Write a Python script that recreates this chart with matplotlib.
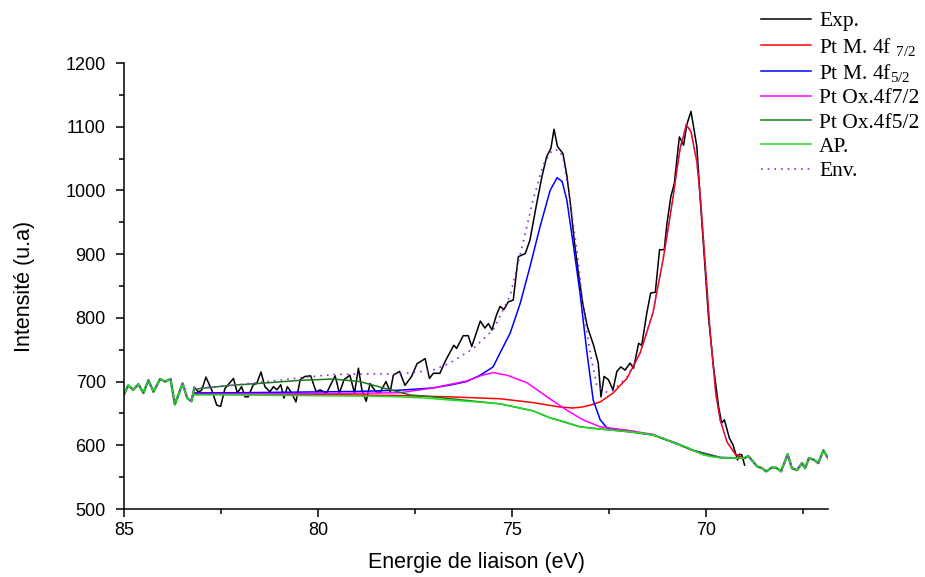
import numpy as np
import matplotlib.pyplot as plt
from matplotlib.ticker import MultipleLocator

# experimental spectrum inside the fit window (binding energy in eV, counts)
e_exp = [83.19, 83.09, 83.00, 82.89, 82.74, 82.61, 82.51, 82.40, 82.18, 82.08,
         81.97, 81.88, 81.80, 81.67, 81.58, 81.47, 81.37, 81.24, 81.15, 81.06,
         80.96, 80.88, 80.79, 80.68, 80.57, 80.46, 80.34, 80.19, 80.05, 79.95,
         79.78, 79.56, 79.45, 79.33, 79.18, 79.06, 78.96, 78.87, 78.76, 78.66,
         78.51, 78.40, 78.25, 78.14, 78.06, 77.90, 77.76, 77.59, 77.45, 77.24,
         77.13, 77.03, 76.86, 76.73, 76.60, 76.50, 76.43, 76.26, 76.13, 76.04,
         75.82, 75.70, 75.61, 75.52, 75.40, 75.31, 75.21, 75.10, 74.97, 74.84,
         74.66, 74.54, 74.38, 74.23, 74.11, 74.00, 73.92, 73.83, 73.69, 73.59,
         73.49, 73.40, 73.29, 73.18, 73.06, 72.90, 72.78, 72.71, 72.63, 72.52,
         72.40, 72.30, 72.20, 72.09, 71.96, 71.87, 71.74, 71.66, 71.53, 71.43,
         71.31, 71.20, 71.08, 71.01, 70.91, 70.82, 70.74, 70.69, 70.58, 70.50,
         70.39, 70.24, 70.15, 70.03, 69.94, 69.81, 69.68, 69.60, 69.53, 69.40,
         69.31, 69.19, 69.14, 69.08, 69.01]
i_exp = [691, 684, 686, 707, 687, 663, 661, 689, 705, 682,
         692, 676, 676, 695, 697, 715, 692, 684, 692, 687,
         695, 674, 692, 682, 668, 703, 708, 709, 684, 687,
         682, 709, 682, 703, 710, 682, 721, 687, 669, 697,
         684, 683, 700, 684, 710, 716, 694, 708, 728, 736,
         705, 713, 713, 731, 746, 757, 752, 772, 772, 755,
         795, 784, 791, 781, 805, 818, 813, 825, 828, 896,
         901, 922, 975, 1022, 1053, 1066, 1096, 1069, 1058, 1024,
         975, 922, 870, 823, 786, 757, 729, 676, 708, 703,
         687, 716, 723, 718, 729, 721, 760, 757, 807, 839,
         840, 907, 907, 948, 990, 1011, 1056, 1084, 1071, 1103,
         1124, 1069, 985, 880, 802, 723, 661, 635, 640, 611,
         601, 577, 586, 585, 569]

# raw data outside the fit window
e_low = [85.00, 84.89, 84.76, 84.63, 84.50, 84.37, 84.24, 84.07, 83.94, 83.80,
         83.69, 83.49, 83.37, 83.26, 83.19]
i_low = [680, 694, 687, 696, 682, 702, 684, 704, 700, 704,
         664, 697, 674, 669, 690]
e_high = [69.01, 68.91, 68.69, 68.56, 68.45, 68.31, 68.20, 68.07, 67.90, 67.79,
          67.66, 67.53, 67.45, 67.35, 67.22, 67.11, 66.98, 66.86]
i_high = [580, 583, 567, 564, 559, 565, 565, 559, 586, 564,
          561, 572, 564, 580, 577, 572, 592, 580]

# Shirley background (AP)
e_bg = [83.19, 82.50, 81.50, 80.46, 79.50, 78.50, 77.89, 77.20, 76.60, 75.90,
        75.31, 74.90, 74.46, 74.02, 73.65, 73.25, 72.87, 72.47, 71.96, 71.65,
        71.37, 71.10, 70.80, 70.49, 70.30, 70.08, 69.86, 69.64, 69.30, 69.01]
i_bg = [679, 679, 678.5, 678, 677.5, 677, 676, 674, 671, 668,
        665, 660, 654, 643, 637, 629, 626, 624, 621, 619,
        616, 611, 603, 597, 591, 585, 582, 580.5, 580, 580]

# Pt metal 4f7/2
e_m72 = [83.19, 82.00, 80.46, 79.00, 77.89, 76.60, 75.31, 74.46, 73.76, 73.43,
         73.20, 72.99, 72.73, 72.40, 72.04, 71.70, 71.54, 71.37, 71.24, 71.11,
         70.98, 70.85, 70.76, 70.67, 70.51, 70.39, 70.24, 70.15, 70.03, 69.90,
         69.75, 69.64, 69.46, 69.25, 69.05]
i_m72 = [682, 681, 680, 679, 678, 676, 673, 667, 660, 658.5,
         660, 663, 668, 682, 705, 745, 775, 808, 850, 891,
         940, 990, 1030, 1066, 1103, 1092, 1045, 990, 890, 780,
         680, 640, 605, 586, 580]

# Pt metal 4f5/2
e_m52 = [83.19, 82.00, 80.46, 79.00, 77.89, 77.04, 76.60, 76.17, 75.82, 75.49,
         75.31, 75.05, 74.79, 74.54, 74.28, 74.02, 73.84, 73.71, 73.59, 73.43,
         73.25, 73.07, 72.91, 72.73, 72.55, 72.40, 72.20, 71.96, 71.37, 70.80,
         70.30, 69.64, 69.01]
i_m52 = [682, 682.5, 683.5, 684.5, 686.5, 690, 694.5, 700, 710, 723,
         745, 776, 823, 880, 943, 1000, 1020, 1014, 985, 918,
         839, 745, 671, 640, 627, 625.5, 623, 621.5, 616.5, 604,
         591.5, 581, 580]

# Pt oxide 4f7/2
e_o72 = [83.19, 80.46, 78.50, 77.89, 77.04, 76.17, 75.77, 75.49, 75.13, 74.61,
         74.10, 73.59, 73.17, 72.73, 71.96, 71.37, 70.80, 70.30, 69.64, 69.01]
i_o72 = [680, 681, 682, 682.5, 690, 701, 710, 714, 710, 698,
         676, 655, 640, 629, 623, 617, 603.5, 591, 580.5, 580]

# Pt oxide 4f5/2
e_o52 = [83.19, 82.27, 81.31, 80.46, 79.61, 78.92, 78.32, 77.63, 77.04, 76.26,
         75.31, 74.46, 74.02, 73.25, 72.47, 71.96, 71.37, 70.80, 70.30, 69.64,
         69.01]
i_o52 = [688, 694, 698, 702, 704, 700, 690, 679, 676, 671,
         665, 654, 643, 629, 624, 621, 616, 603, 591, 580.5,
         580]

# envelope of the fit
e_env = [83.19, 82.27, 81.31, 80.46, 79.61, 78.92, 78.32, 77.89, 77.04, 76.60,
         76.00, 75.49, 75.05, 74.71, 74.46, 74.20, 73.97, 73.82, 73.69, 73.51,
         73.33, 73.17, 72.99, 72.81, 72.55, 72.40, 72.04, 71.70, 71.37, 71.11,
         70.85, 70.67, 70.51, 70.39, 70.24, 70.15, 70.03, 69.90, 69.75, 69.64,
         69.46, 69.25, 69.05]
i_env = [689, 694, 700, 706, 711, 712, 712, 712, 718, 729,
         752, 781, 835, 920, 985, 1040, 1063, 1064, 1053, 985,
         906, 818, 745, 692, 683, 686, 707, 746, 809, 892,
         991, 1067, 1104, 1093, 1046, 991, 891, 781, 681, 641,
         606, 587, 581]

plt.rcParams['font.family'] = 'Liberation Sans'
plt.rcParams['mathtext.fontset'] = 'custom'
plt.rcParams['mathtext.rm'] = 'Liberation Serif'
plt.rcParams['mathtext.it'] = 'Liberation Serif'

fig = plt.figure(figsize=(9.25, 5.77), dpi=100)
ax = fig.add_axes([124/925, 1-509/577, (828-124)/925, (509-63)/577])

lw = 1.1
dots = (0, (1, 3))
ax.plot(e_exp, i_exp, color='black', lw=lw, label='Exp.')
ax.plot(e_m72, i_m72, color='#ff0000', lw=lw, label=r'Pt M. 4f $_{7/2}$')
ax.plot(e_m52, i_m52, color='#0000ff', lw=lw, label=r'Pt M. 4f$_{5/2}$')
ax.plot(e_o72, i_o72, color='#ff00ff', lw=lw, label='Pt Ox.4f7/2')
ax.plot(e_o52, i_o52, color='#1a7a1a', lw=lw, label='Pt Ox.4f5/2')
ax.plot(e_low, i_low, color='#1a7a1a', lw=lw + 0.6)
ax.plot(e_high, i_high, color='#1a7a1a', lw=lw + 0.6)
ax.plot(e_bg, i_bg, color='#22dd22', lw=lw, label='AP.')
ax.plot(e_low, i_low, color='#22dd22', lw=lw)
ax.plot(e_high, i_high, color='#22dd22', lw=lw)
ax.plot(e_env, i_env, color='#8a2be2', lw=1.2, ls=dots, label='Env.')
ax.plot(e_low, i_low, color='#8a2be2', lw=1.2, ls=dots)
ax.plot(e_high, i_high, color='#8a2be2', lw=1.2, ls=dots)

ax.set_xlim(85, 66.86)
ax.set_ylim(500, 1200)
ax.xaxis.set_major_locator(MultipleLocator(5))
ax.xaxis.set_minor_locator(MultipleLocator(2.5))
ax.yaxis.set_major_locator(MultipleLocator(100))
ax.yaxis.set_minor_locator(MultipleLocator(50))
for s in ['top', 'right']:
    ax.spines[s].set_visible(False)
for s in ['left', 'bottom']:
    ax.spines[s].set_linewidth(1.1)
ax.tick_params(which='major', direction='out', length=6, width=1.1, labelsize=13)
ax.tick_params(which='minor', direction='out', length=3.5, width=1.1)
ax.tick_params(axis='y', which='major', pad=7)
ax.set_xlabel('Energie de liaison (eV)', fontsize=15.5, labelpad=9)
ax.set_ylabel('Intensité (u.a)', fontsize=15.5, labelpad=22)

handles, labels = ax.get_legend_handles_labels()
fig.legend(handles, labels, loc='upper left', bbox_to_anchor=(748/925, 1.003),
           frameon=False, prop={'family': 'Liberation Serif', 'size': 15.5},
           handlelength=2.33, handletextpad=0.37, labelspacing=0.2,
           borderaxespad=0.2)

plt.savefig('out.png', dpi=100)
